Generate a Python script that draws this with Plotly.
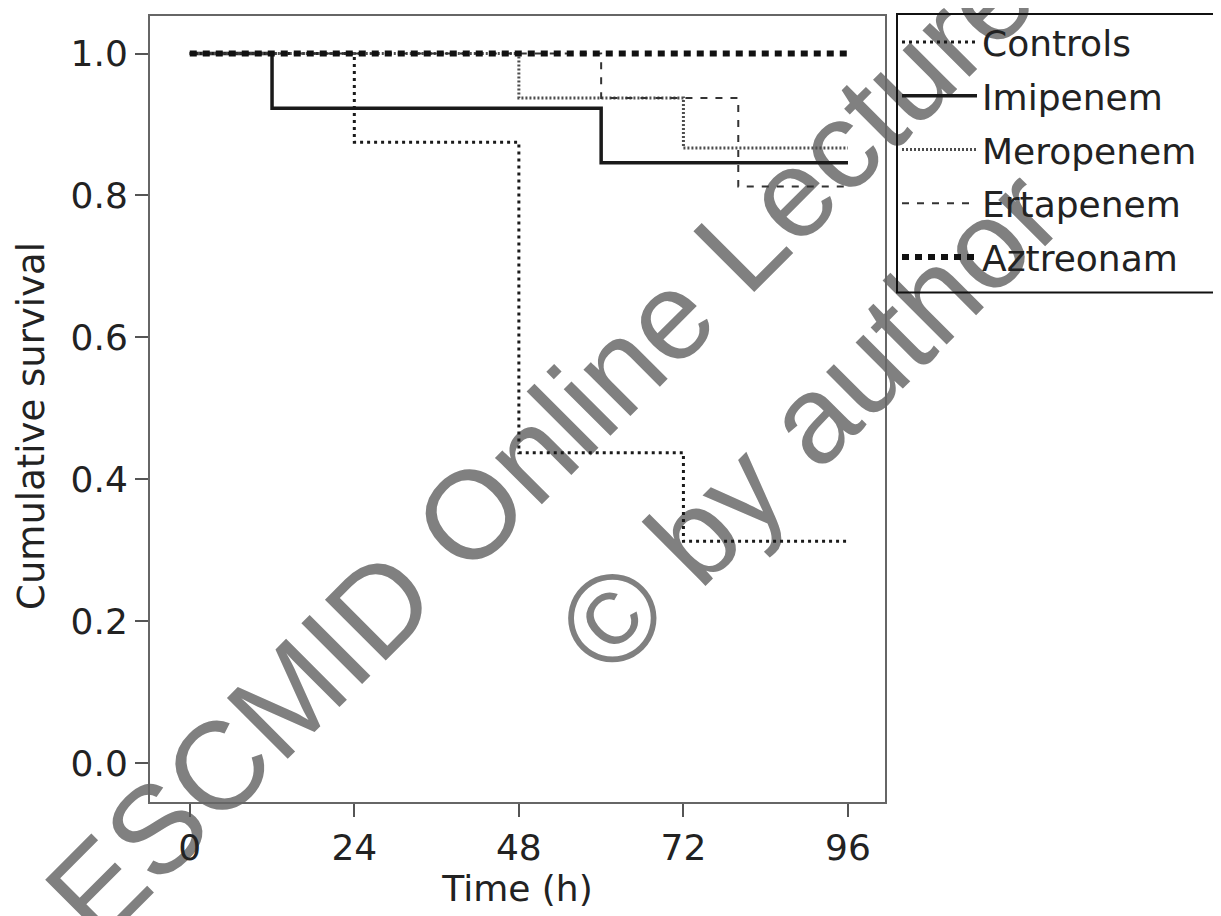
import plotly.graph_objects as go

# Kaplan-Meier style step data (time in h, cumulative survival)
controls_t = [0, 24, 48, 72, 96]
controls_s = [1.0, 0.875, 0.4375, 0.3125, 0.3125]

imipenem_t = [0, 12, 60, 96]
imipenem_s = [1.0, 0.923, 0.846, 0.846]

meropenem_t = [0, 48, 72, 96]
meropenem_s = [1.0, 0.9375, 0.867, 0.867]

ertapenem_t = [0, 60, 80, 96]
ertapenem_s = [1.0, 0.9375, 0.8125, 0.8125]

aztreonam_t = [0, 96]
aztreonam_s = [1.0, 1.0]

x_ticks = [0, 24, 48, 72, 96]
y_ticks = [0.0, 0.2, 0.4, 0.6, 0.8, 1.0]
y_ticklabels = ["0.0", "0.2", "0.4", "0.6", "0.8", "1.0"]

FONT = "DejaVu Sans"
TXT = "#222222"

series = [
    ("Controls", controls_t, controls_s, dict(color="#1a1a1a", width=3, dash="3px,4px")),
    ("Imipenem", imipenem_t, imipenem_s, dict(color="#1a1a1a", width=3.5, dash="solid")),
    ("Meropenem", meropenem_t, meropenem_s, dict(color="#4d4d4d", width=3, dash="2px,2px")),
    ("Ertapenem", ertapenem_t, ertapenem_s, dict(color="#333333", width=2, dash="7px,8px")),
    ("Aztreonam", aztreonam_t, aztreonam_s, dict(color="#111111", width=6, dash="7px,6px")),
]

fig = go.Figure()
for name, t, s, line in series:
    fig.add_trace(go.Scatter(
        x=t, y=s, mode="lines", name=name, line=dict(shape="hv", **line),
        legendgroup=name,
    ))

# page body has an 8px offset; plot area lands at x 150..885, y 12..802
fig.update_layout(
    width=1221, height=916,
    margin=dict(l=142, r=344, t=4, b=122),
    paper_bgcolor="white", plot_bgcolor="rgba(0,0,0,0)",
    font=dict(family=FONT, size=36, color=TXT),
    showlegend=True,
    legend=dict(
        x=(897 - 150) / 735, y=(802 - 8) / 790, xanchor="left", yanchor="top",
        borderwidth=0, bgcolor="rgba(0,0,0,0)",
        font=dict(family=FONT, size=36, color=TXT),
        itemwidth=75, tracegroupgap=4,
    ),
    xaxis=dict(
        range=[-5.8, 101.4], tickmode="array", tickvals=x_ticks,
        ticks="outside", ticklen=13, tickwidth=2, tickcolor="#555555",
        showline=True, linecolor="#666666", linewidth=2, mirror=True,
        showgrid=False, zeroline=False,
        tickfont=dict(family=FONT, size=36, color=TXT),
        title=dict(text="Time (h)", font=dict(family=FONT, size=36, color=TXT), standoff=6),
    ),
    yaxis=dict(
        range=[-0.055, 1.053], tickmode="array", tickvals=y_ticks, ticktext=y_ticklabels,
        ticks="outside", ticklen=13, tickwidth=2, tickcolor="#555555",
        showline=True, linecolor="#666666", linewidth=2, mirror=True,
        showgrid=False, zeroline=False,
        tickfont=dict(family=FONT, size=36, color=TXT),
    ),
)

# legend frame running off the right edge, as in the reference
fig.add_shape(
    type="rect", xref="paper", yref="paper",
    x0=(897 - 150) / 735, x1=(1240 - 150) / 735,
    y0=(802 - 290) / 790, y1=(802 - 10) / 790,
    line=dict(color="#111111", width=2), fillcolor="rgba(0,0,0,0)",
)

# y-axis title placed as in the reference
fig.add_annotation(
    text="Cumulative survival", xref="paper", yref="paper",
    x=(32 - 150) / 735, y=(802 - 424) / 790, xanchor="center", yanchor="middle",
    textangle=-90, showarrow=False,
    font=dict(family=FONT, size=37, color=TXT),
)

# Watermark (drawn beneath the data, as in the reference)
wm_font = dict(family="Liberation Sans", size=125, color="#808080")
for text, cx, cy in [("ESCMID Online Lecture", 531, 435), ("© by author", 800, 411)]:
    px = (cx - 150) / 735
    py = (802 - cy) / 790
    fig.add_shape(
        type="rect", xref="paper", yref="paper",
        x0=px - 0.001, x1=px + 0.001, y0=py - 0.001, y1=py + 0.001,
        line=dict(width=0), fillcolor="rgba(0,0,0,0)", layer="below",
        label=dict(text=text, font=wm_font, textangle=-45,
                   textposition="middle center"),
    )

fig.write_html("out.html")
